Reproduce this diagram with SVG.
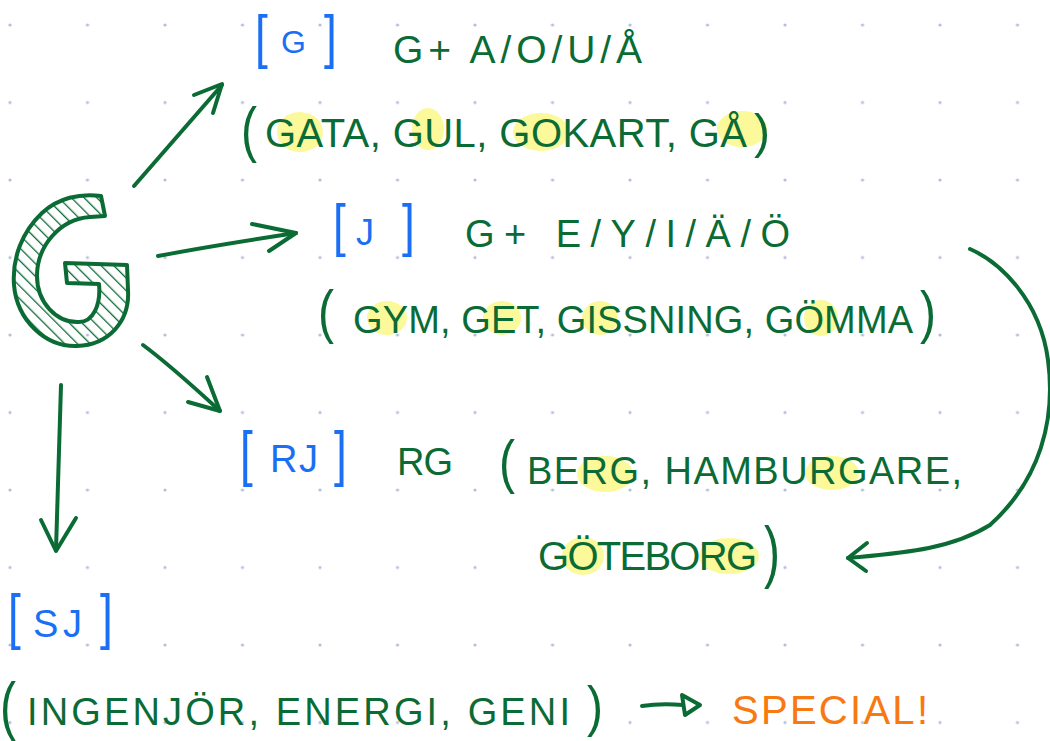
<svg xmlns="http://www.w3.org/2000/svg" width="1050" height="741" viewBox="0 0 1050 741">
<defs>
<pattern id="grid" patternUnits="userSpaceOnUse" x="-28.75" y="-13.75" width="77.5" height="77.5">
<circle cx="38.75" cy="38.75" r="1.6" fill="#b4bfdc"/>
</pattern>
<pattern id="hatch" patternUnits="userSpaceOnUse" width="9" height="9" patternTransform="rotate(-45)">
<line x1="0" y1="0" x2="0" y2="9" stroke="#0b6b35" stroke-width="2.6"/>
</pattern>
<style>
.g{fill:#0b6b35;font-family:"Liberation Sans",Arial,sans-serif}
.b{fill:#1a6ff4;font-family:"Liberation Sans",Arial,sans-serif}
.o{fill:#f8790f;font-family:"Liberation Sans",Arial,sans-serif}
.br{font-size:40px}
.hl{fill:#fcf99a}
.c{fill:none;stroke:#0b6b35;stroke-width:4;stroke-linecap:round;stroke-linejoin:round}
</style>
</defs>
<rect width="1050" height="741" fill="#ffffff"/>
<rect width="1050" height="741" fill="url(#grid)"/>

<g id="highlights">
<ellipse class="hl" cx="300" cy="132" rx="23" ry="20"/>
<ellipse class="hl" cx="428" cy="129" rx="16" ry="21"/>
<ellipse class="hl" cx="541" cy="132" rx="28" ry="19"/>
<ellipse class="hl" cx="742" cy="129" rx="25" ry="18"/>
<ellipse class="hl" cx="387" cy="318" rx="20" ry="17"/>
<ellipse class="hl" cx="502" cy="318" rx="19" ry="17"/>
<ellipse class="hl" cx="600" cy="318" rx="18" ry="17"/>
<ellipse class="hl" cx="821" cy="318" rx="17" ry="18"/>
<ellipse class="hl" cx="605" cy="474" rx="28" ry="18"/>
<ellipse class="hl" cx="832" cy="473" rx="27" ry="17"/>
<ellipse class="hl" cx="583" cy="556" rx="21" ry="19"/>
<ellipse class="hl" cx="729" cy="556" rx="30" ry="18"/>
</g>

<g id="node-G-big">
<path d="M101,196 C80,193 58,198 42,213 C22,232 12,258 14,285 C17,320 45,347 77,346 C108,345 130,322 128,290 L127,265 L65,263 L67,283 L99,284 C101,305 93,322 79,322 C56,323 37,302 37,276 C37,246 60,219 90,217 L105,216 Z" fill="url(#hatch)" stroke="#0b6b35" stroke-width="4" stroke-linejoin="round"/>
</g>

<g id="node-G">
<text class="b br" transform="translate(255,57) scale(1.15,1.5)">[</text>
<text class="b" x="281" y="53" font-size="32">G</text>
<text class="b br" transform="translate(324,57) scale(1.15,1.5)">]</text>
<text class="g" x="393" y="63" font-size="39" textLength="249" lengthAdjust="spacing">G+ A/O/U/Å</text>
<text class="g br" transform="translate(241,150) scale(1.2,1.54)">(</text>
<text class="g" x="265" y="147" font-size="40" textLength="482" lengthAdjust="spacing">GATA, GUL, GOKART, GÅ</text>
<text class="g br" transform="translate(754,148) scale(1.2,1.22)">)</text>
</g>

<g id="node-J">
<text class="b br" transform="translate(333,245) scale(1.15,1.43)">[</text>
<text class="b" x="356" y="245" font-size="36">J</text>
<text class="b br" transform="translate(402,245) scale(1.15,1.43)">]</text>
<text class="g" x="465" y="247" font-size="38" textLength="325" lengthAdjust="spacing">G+ E/Y/I/Ä/Ö</text>
<text class="g br" transform="translate(318,332) scale(1.2,1.46)">(</text>
<text class="g" x="353" y="333" font-size="38" textLength="560" lengthAdjust="spacing">GYM, GET, GISSNING, GÖMMA</text>
<text class="g br" transform="translate(920,332) scale(1.2,1.45)">)</text>
</g>

<g id="node-RJ">
<text class="b br" transform="translate(240,474) scale(1.15,1.54)">[</text>
<text class="b" x="270" y="472" font-size="38" textLength="48" lengthAdjust="spacing">RJ</text>
<text class="b br" transform="translate(334,474) scale(1.15,1.54)">]</text>
<text class="g" x="397" y="475" font-size="38" textLength="56" lengthAdjust="spacing">RG</text>
<text class="g br" transform="translate(499,482) scale(1.2,1.46)">(</text>
<text class="g" x="527" y="484" font-size="38" textLength="435" lengthAdjust="spacing">BERG, HAMBURGARE,</text>
<text class="g" x="538" y="570" font-size="40" textLength="219" lengthAdjust="spacing">GÖTEBORG</text>
<text class="g br" transform="translate(764,575) scale(1.2,1.73)">)</text>
</g>

<g id="node-SJ">
<text class="b br" transform="translate(8,637) scale(1.15,1.54)">[</text>
<text class="b" x="33" y="637" font-size="38" textLength="49" lengthAdjust="spacing">SJ</text>
<text class="b br" transform="translate(100,637) scale(1.15,1.54)">]</text>
<text class="g br" transform="translate(0,728) scale(1.2,1.6)">(</text>
<text class="g" x="27" y="725" font-size="38" textLength="543" lengthAdjust="spacing">INGENJÖR, ENERGI, GENI</text>
<text class="g br" transform="translate(587,725) scale(1.2,1.38)">)</text>
</g>

<g id="node-special">
<text class="o" x="732" y="724" font-size="40" textLength="196" lengthAdjust="spacing">SPECIAL!</text>
</g>

<g id="connectors">
<path class="c" d="M134,186 L222,85"/>
<path class="c" d="M194,95 L222,84 L213,113"/>
<path class="c" d="M158,256 C200,248 250,240 296,233"/>
<path class="c" d="M252,224 L296,233 L269,251"/>
<path class="c" d="M143,345 C170,365 195,388 220,411"/>
<path class="c" d="M207,377 L220,411 L188,402"/>
<path class="c" d="M61,385 L56,550"/>
<path class="c" d="M41,520 L56,551 L76,518"/>
<path class="c" d="M970,249 C1000,262 1040,300 1048,360 C1056,420 1040,480 990,525 C950,550 900,553 848,558"/>
<path class="c" d="M867,543 L848,558 L866,571"/>
<path class="c" d="M642,706 C655,704 670,704 683,705"/>
<path class="c" d="M682,695 L700,705 L685,715 Z"/>
</g>
</svg>
